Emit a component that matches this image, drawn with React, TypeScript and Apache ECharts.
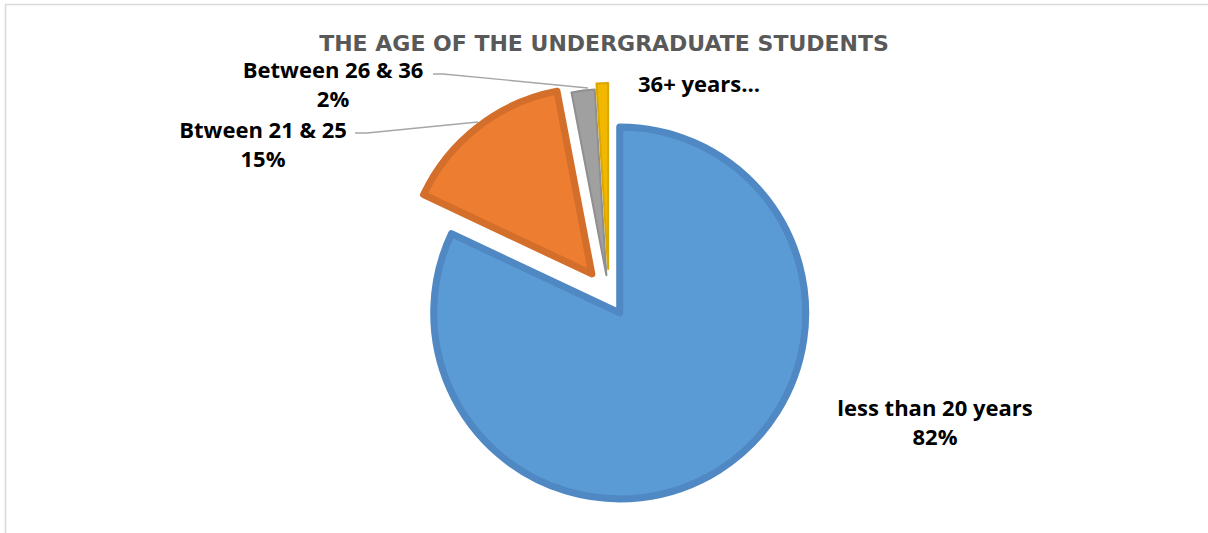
import React, { useEffect, useRef } from "react";
import * as echarts from "echarts";

const TITLE = "THE AGE OF THE UNDERGRADUATE STUDENTS";
const categories = ["less than 20 years", "Btween 21 & 25", "Between 26 & 36", "36+ years"];
const values = [82, 15, 2, 1];
const labelTexts = ["less than 20 years\n82%", "Btween 21 & 25\n15%", "Between 26 & 36\n2%", "36+ years…"];
const colors = ["#5b9bd5", "#ed7d31", "#a0a0a0", "#f2b800"];
const borderColors = ["#4f88c2", "#d46e2b", "#8f8f8f", "#dca600"];
const borderWidths = [7, 7, 2, 2];
const explode = [20, 28, 21, 27];

// label placement (styling)
const labelPos: { x: number; y: number }[] = [
  { x: 935, y: 421 },
  { x: 263, y: 143 },
  { x: 333, y: 83 },
  { x: 699, y: 83 },
];
const labelLines: (number[][] | null)[] = [
  null,
  [[478, 122], [367, 133], [355, 133]],
  [[588, 88], [443, 74], [433, 74]],
  null,
];

export default function App() {
  const ref = useRef<HTMLDivElement>(null);
  useEffect(() => {
    if (!ref.current) return;
    const chart = echarts.init(ref.current, null, { renderer: "svg" });
    const base = [609, 296];
    const radius = 186;
    const total = values.reduce((a, b) => a + b, 0);
    let cum = 0;
    const series: any[] = values.map((v, i) => {
      const mid = ((cum + v / 2) / total) * Math.PI * 2;
      cum += v;
      const cx = base[0] + Math.sin(mid) * explode[i];
      const cy = base[1] - Math.cos(mid) * explode[i];
      return {
        type: "pie",
        silent: true,
        center: [cx, cy],
        radius: [0, radius],
        startAngle: 90,
        clockwise: true,
        avoidLabelOverlap: false,
        z: 2,
        label: {
          show: true,
          position: "outside",
          color: "#000000",
          fontFamily: "Open Sans",
          fontWeight: "bold",
          fontSize: 22,
          lineHeight: 29,
          formatter: () => labelTexts[i],
        },
        labelLine: {
          show: true,
          length: 10,
          length2: 10,
          lineStyle: { color: "#a6a6a6", width: 1.3 },
        },
        labelLayout: () => ({
          x: labelPos[i].x,
          y: labelPos[i].y,
          align: "center",
          verticalAlign: "middle",
          ...(labelLines[i] ? { labelLinePoints: labelLines[i] } : {}),
        }),
        data: values.map((val, j) => ({
          name: categories[j],
          value: val,
          itemStyle:
            j === i
              ? { color: colors[j], borderColor: borderColors[j], borderWidth: borderWidths[j] }
              : { color: "rgba(0,0,0,0)", borderWidth: 0 },
          label: { show: j === i },
          labelLine: { show: j === i && !!labelLines[i] },
        })),
      };
    });

    chart.setOption({
      animation: false,
      backgroundColor: "#ffffff",
      title: {
        text: TITLE,
        left: "center",
        top: 27,
        textStyle: {
          fontFamily: "DejaVu Sans",
          fontWeight: "bold",
          fontSize: 22,
          color: "#595959",
        },
      },
      graphic: [
        {
          type: "rect",
          silent: true,
          z: -10,
          shape: { x: 5.5, y: 4.5, width: 1400, height: 700 },
          style: { fill: "none", stroke: "#d9d9d9", lineWidth: 1.5 },
        },
      ],
      series,
    });
    return () => chart.dispose();
  }, []);
  return (
    <div
      ref={ref}
      style={{ position: "absolute", left: 0, top: 0, width: 1208, height: 533 }}
    />
  );
}
